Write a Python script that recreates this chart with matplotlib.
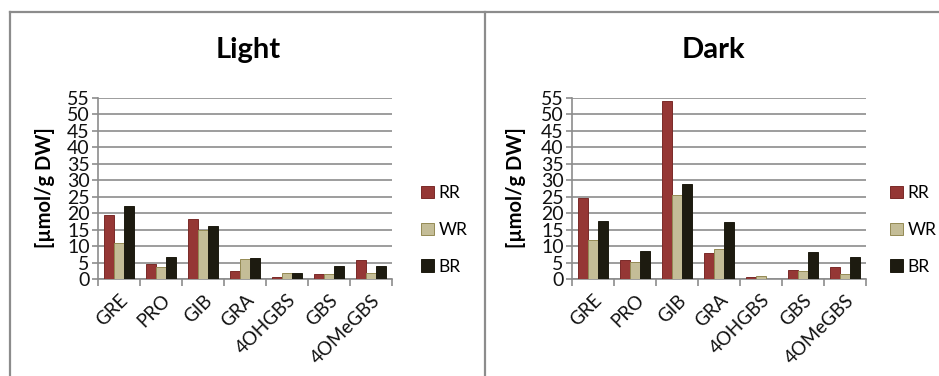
import numpy as np
import matplotlib
matplotlib.use("Agg")
import matplotlib.pyplot as plt
from matplotlib.lines import Line2D

plt.rcParams['font.family'] = ['Lato', 'DejaVu Sans']

# data
categories = ['GRE', 'PRO', 'GIB', 'GRA', '4OHGBS', 'GBS', '4OMeGBS']
series = ['RR', 'WR', 'BR']

light_rr = [19.5, 4.5, 18.3, 2.3, 0.5, 1.4, 5.9]
light_wr = [11.0, 3.6, 15.0, 6.2, 1.7, 1.4, 1.7]
light_br = [22.1, 6.8, 16.1, 6.5, 1.7, 3.8, 3.8]

dark_rr = [24.6, 5.9, 54.2, 8.0, 0.5, 2.6, 3.5]
dark_wr = [11.8, 5.2, 25.4, 9.0, 0.8, 2.3, 1.4]
dark_br = [17.6, 8.5, 29.0, 17.3, 0.0, 8.2, 6.7]

colors = ['#953735', '#C4BD97', '#1D1B10']
edges = ['#7a2a28', '#948A54', '#1D1B10']
grey = '#8c8c8c'

W, H = 939, 376
fig = plt.figure(figsize=(W / 100, H / 100), dpi=100)

# panel borders
fig.add_artist(Line2D([10 / W, 10 / W], [0, 1 - 12 / H], transform=fig.transFigure, color=grey, lw=1.6))
fig.add_artist(Line2D([10 / W, 1], [1 - 12 / H, 1 - 12 / H], transform=fig.transFigure, color=grey, lw=1.6))
fig.add_artist(Line2D([485 / W, 485 / W], [0, 1 - 12 / H], transform=fig.transFigure, color=grey, lw=1.6))


def panel(x0, title, values, title_x, ylab_x, leg_x):
    ax = fig.add_axes([x0 / W, (H - 279) / H, 294 / W, 181 / H])
    x = np.arange(len(categories))
    bw = 0.238
    for i, (vals, c, e) in enumerate(zip(values, colors, edges)):
        ax.bar(x + (i - 1) * bw, vals, width=bw, color=c, edgecolor=e, linewidth=0.7,
               label=series[i], zorder=3)
    ax.set_xlim(-0.5, len(categories) - 0.5)
    ax.set_ylim(0, 55)
    ax.set_yticks(np.arange(0, 56, 5))
    ax.yaxis.grid(True, color=grey, lw=1.2, zorder=0)
    ax.set_axisbelow(True)
    for s in ['top', 'right']:
        ax.spines[s].set_visible(False)
    for s in ['left', 'bottom']:
        ax.spines[s].set_color(grey)
        ax.spines[s].set_linewidth(1.2)
    ax.set_xticks(x)
    ax.set_xticklabels(categories, rotation=45, ha='right', rotation_mode='anchor')
    ax.set_xticks(np.arange(-0.5, len(categories)), minor=True)
    ax.tick_params(axis='x', which='major', length=0, pad=9, labelsize=13.5, labelcolor='#111111')
    ax.tick_params(axis='x', which='minor', length=5, color=grey, width=1.2)
    ax.tick_params(axis='y', length=4, color=grey, width=1.2, pad=2, labelsize=14,
                   labelcolor='#111111')
    fig.text(title_x / W, 1 - 50 / H, title, ha='center', va='center',
             fontsize=21, fontweight='bold')
    fig.text(ylab_x / W, 1 - 188 / H, '[µmol/g DW]', rotation=90, ha='center', va='center',
             fontsize=14.5, fontweight='bold')
    ax.legend(loc='center left', bbox_to_anchor=(leg_x / W, 1 - 230 / H),
              bbox_transform=fig.transFigure, frameon=False, fontsize=12.5,
              handlelength=0.75, handleheight=0.75, handletextpad=0.25,
              labelspacing=1.2, borderpad=0, borderaxespad=0)
    return ax


panel(98, 'Light', [light_rr, light_wr, light_br], 248, 45, 421)
panel(572, 'Dark', [dark_rr, dark_wr, dark_br], 713, 516, 890)

fig.savefig('out.png', dpi=100)
